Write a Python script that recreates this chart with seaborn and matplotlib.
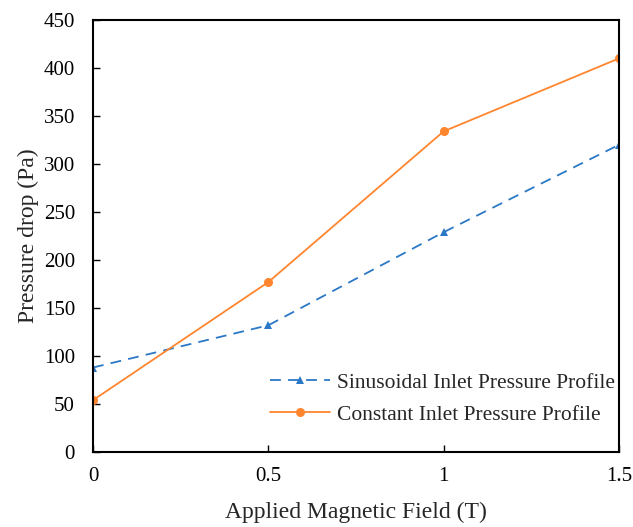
import matplotlib
matplotlib.use("Agg")
import matplotlib.pyplot as plt
import seaborn as sns
import pandas as pd

field = [0, 0.5, 1, 1.5]
sinusoidal = [88, 132, 229, 320]
constant = [54, 177, 334, 410]
series_names = ["Sinusoidal Inlet Pressure Profile", "Constant Inlet Pressure Profile"]
x_ticks = [0, 0.5, 1, 1.5]
x_tick_labels = ["0", "0.5", "1", "1.5"]
y_ticks = list(range(0, 451, 50))

sns.set_style("ticks")
plt.rcParams["font.family"] = ["Liberation Serif", "DejaVu Serif"]

df = pd.DataFrame({
    "x": field * 2,
    "y": sinusoidal + constant,
    "series": [series_names[0]] * 4 + [series_names[1]] * 4,
})

fig = plt.figure(figsize=(6.33, 5.27), dpi=100)
ax = fig.add_axes([93 / 633, 1 - 452 / 527, (619 - 93) / 633, (452 - 20) / 527])

colors = {series_names[0]: "#2a78c6", series_names[1]: "#ff852e"}
sns.lineplot(data=df[df.series == series_names[0]], x="x", y="y", ax=ax,
             color=colors[series_names[0]], marker="^", markersize=6,
             markeredgewidth=0, linewidth=1.3, linestyle=(0, (6, 4)),
             label=series_names[0])
sns.lineplot(data=df[df.series == series_names[1]], x="x", y="y", ax=ax,
             color=colors[series_names[1]], marker="o", markersize=6.5,
             markeredgewidth=0, linewidth=1.3,
             label=series_names[1])

ax.set_xlim(0, 1.5)
ax.set_ylim(0, 450)
ax.set_xticks(x_ticks)
ax.set_xticklabels(x_tick_labels)
ax.set_yticks(y_ticks)
ax.tick_params(direction="in", length=5, width=1, labelsize=15, colors="black")
ax.tick_params(axis="x", pad=11)
ax.tick_params(axis="y", pad=13)
for s in ax.spines.values():
    s.set_linewidth(1.5)
    s.set_color("black")
    s.set_visible(True)
ax.set_xlabel("Applied Magnetic Field (T)", fontsize=17, labelpad=11)
ax.set_ylabel("Pressure drop (Pa)", fontsize=17, labelpad=3)
ax.legend(loc="lower right", frameon=False, fontsize=15.5, handlelength=2.8,
          handletextpad=0.35, labelspacing=0.55,
          bbox_to_anchor=(1.03, 0.018))

fig.savefig("out.png", dpi=100)
